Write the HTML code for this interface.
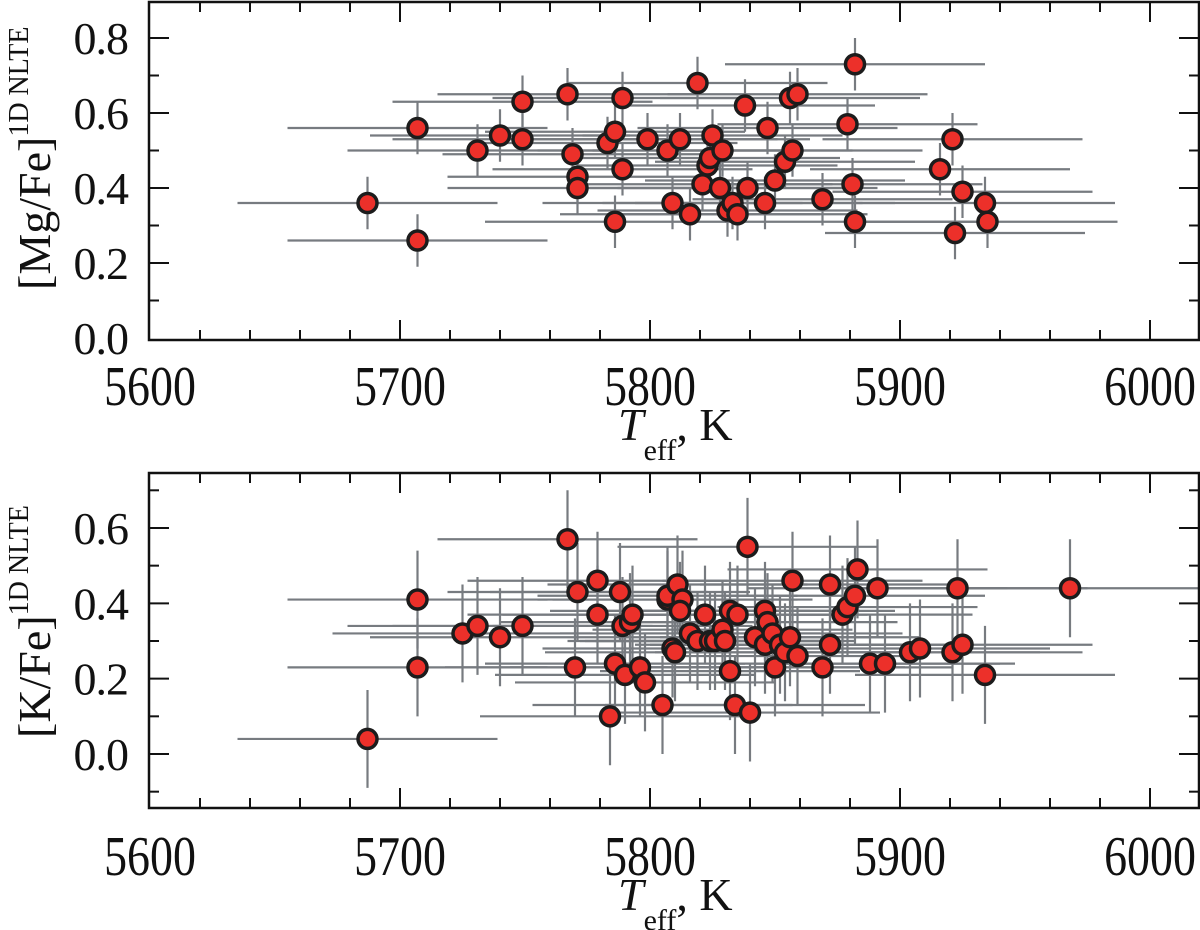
<!DOCTYPE html>
<html><head><meta charset="utf-8"><style>
body{margin:0;background:#fff}
svg{display:block;font-family:"Liberation Serif",serif}
</style></head><body>
<svg id="chart" width="1200" height="930" viewBox="0 0 1200 930" xmlns="http://www.w3.org/2000/svg">
<g id="top"></g>
<g id="bot"></g>
</svg>
<script>
const mgTeff=[5687,5707,5707,5731,5740,5749,5749,5767,5769,5771,5771,5783,5786,5786,5789,5789,5799,5807,5809,5812,5816,5819,5821,5823,5824,5825,5829,5828,5831,5833,5835,5838,5839,5846,5847,5850,5854,5856,5857,5859,5869,5879,5881,5882,5882,5916,5921,5922,5925,5934,5935];
const mgVal=[0.36,0.26,0.56,0.50,0.54,0.63,0.53,0.65,0.49,0.43,0.40,0.52,0.55,0.31,0.64,0.45,0.53,0.50,0.36,0.53,0.33,0.68,0.41,0.46,0.48,0.54,0.50,0.40,0.34,0.36,0.33,0.62,0.40,0.36,0.56,0.42,0.47,0.64,0.50,0.65,0.37,0.57,0.41,0.31,0.73,0.45,0.53,0.28,0.39,0.36,0.31];
const kTeff=[5687,5707,5707,5725,5731,5740,5749,5767,5770,5771,5779,5779,5784,5786,5788,5789,5790,5792,5793,5796,5798,5805,5807,5807,5809,5810,5811,5813,5812,5816,5819,5822,5824,5826,5829,5830,5832,5832,5834,5835,5839,5840,5842,5846,5846,5847,5849,5850,5852,5854,5856,5857,5859,5869,5872,5872,5877,5879,5882,5883,5888,5891,5894,5904,5908,5921,5923,5925,5934,5968];
const kVal=[0.04,0.41,0.23,0.32,0.34,0.31,0.34,0.57,0.23,0.43,0.46,0.37,0.10,0.24,0.43,0.34,0.21,0.35,0.37,0.23,0.19,0.13,0.41,0.42,0.28,0.27,0.45,0.41,0.38,0.32,0.30,0.37,0.30,0.30,0.33,0.30,0.38,0.22,0.13,0.37,0.55,0.11,0.31,0.38,0.29,0.35,0.32,0.23,0.29,0.27,0.31,0.46,0.26,0.23,0.29,0.45,0.37,0.39,0.42,0.49,0.24,0.44,0.24,0.27,0.28,0.27,0.44,0.29,0.21,0.44];
const xTicks=[5600,5700,5800,5900,6000];
const mgYTicks=["0.0","0.2","0.4","0.6","0.8"];
const kYTicks=["0.0","0.2","0.4","0.6"];
const teffErr=52, mgErr=0.07, kErr=0.13;

const NS="http://www.w3.org/2000/svg";
function el(p,tag,attrs){const e=document.createElementNS(NS,tag);for(const k in attrs)e.setAttribute(k,attrs[k]);p.appendChild(e);return e;}
const L=149,R=1200;
const xs=t=>150+(t-5600)*2.5;

function panel(g,top,bot,y0,yPer,T,V,yerr,yt,ylab,name,xlabBase,titleBase,ytitleY){
  const ys=v=>y0-v*yPer;
  const errG=el(g,'g',{});
  
  
  for(let i=0;i<T.length;i++){
    const x=xs(T[i]),y=ys(V[i]);
    const h=el(errG,'line',{x1:xs(T[i]-teffErr),x2:Math.min(xs(T[i]+teffErr),R),y1:y,y2:y,stroke:'#777b80','stroke-width':2.2});
    
    
    const v=el(errG,'line',{x1:x,x2:x,y1:ys(V[i]-yerr),y2:ys(V[i]+yerr),stroke:'#777b80','stroke-width':2.2});
    
    
  }
  const ptG=el(g,'g',{});
  
  
  for(let i=0;i<T.length;i++){
    const c=el(ptG,'circle',{cx:xs(T[i]),cy:ys(V[i]),r:9.5,fill:'#ec302a',stroke:'#1c1c1c','stroke-width':3.5});
    
    
  }
  const fr=el(g,'rect',{x:L,y:top,width:R-L-1,height:bot-top,fill:'none',stroke:'#111','stroke-width':2.5});
  
  
  for(let t=5600;t<=6020;t+=20){
    const x=xs(t),maj=(t%100===0),len=maj?20:10;
    if(t===5600) continue;
    const a=el(g,'line',{x1:x,x2:x,y1:bot,y2:bot-len,stroke:'#111','stroke-width':2});
    
    
    const b=el(g,'line',{x1:x,x2:x,y1:top,y2:top+len,stroke:'#111','stroke-width':2});
    
    
  }
  xTicks.forEach(t=>{
    const tx=el(g,'text',{x:0,y:0,'font-size':56,'text-anchor':'middle',fill:'#111',transform:`translate(${xs(t)},${xlabBase}) scale(0.82,1)`});
    tx.textContent=t;
    
    
  });
  for(let k=-1;k<=9;k++){
    const v=k/10,y=ys(v);
    if(y<=top+2||y>=bot-2) continue;
    const len=(k%2===0)?20:10;
    const a=el(g,'line',{x1:L,x2:L+len,y1:y,y2:y,stroke:'#111','stroke-width':2});
    
    
    const b=el(g,'line',{x1:R-1-len,x2:R-1,y1:y,y2:y,stroke:'#111','stroke-width':2});
    
    
  }
  yt.forEach(s=>{
    const tx=el(g,'text',{x:128,y:ys(parseFloat(s))+16,'font-size':46,'text-anchor':'end','letter-spacing':'-1',fill:'#111'});
    tx.textContent=s;
    
    
  });
  const xt=el(g,'text',{x:618,y:titleBase,'font-size':46,fill:'#111'});
  
  
  xt.innerHTML='<tspan font-style="italic">T</tspan><tspan font-size="30" dy="20">eff</tspan><tspan dy="-20">, K</tspan>';
  const yt2=el(g,'text',{transform:`translate(50,${ytitleY}) rotate(-90)`,'font-size':46,fill:'#111'});
  
  
  yt2.innerHTML=ylab+'<tspan font-size="28" dy="-22">1D NLTE</tspan>';
}
panel(document.getElementById('top'),2,340,338,375,mgTeff,mgVal,mgErr,mgYTicks,'[Mg/Fe]','mg-fe',405,440,290);
panel(document.getElementById('bot'),473,808,754,376.7,kTeff,kVal,kErr,kYTicks,'[K/Fe]','k-fe',875,910,738);
</script>
</body></html>
